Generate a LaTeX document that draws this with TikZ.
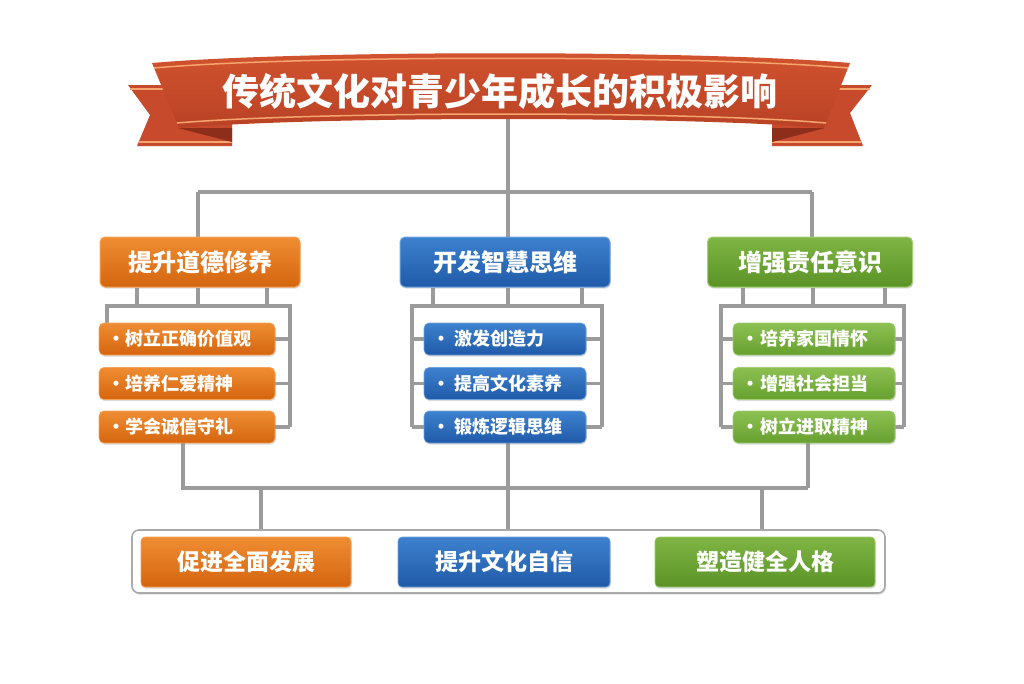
\documentclass[tikz,border=0pt]{standalone}
\usepackage{fontspec}
\newfontfamily\cjk{Noto Sans CJK SC}
\usetikzlibrary{shadows}
\pgfdeclarelayer{bg}
\pgfdeclarelayer{paper}
\pgfsetlayers{paper,bg,main}
\definecolor{lg}{HTML}{9B9B9B}
\definecolor{bn}{HTML}{C84A2D}
\definecolor{bnt}{HTML}{D2532F}
\definecolor{bnb}{HTML}{B94225}
\definecolor{bnd}{HTML}{8C2E1A}
\definecolor{bns}{HTML}{F5A56E}
\definecolor{ot}{HTML}{EF8D33}
\definecolor{ob}{HTML}{D4650F}
\definecolor{oe}{HTML}{F4A357}
\definecolor{btc}{HTML}{3E81CF}
\definecolor{bbc}{HTML}{1F5AA7}
\definecolor{be}{HTML}{6FA3DE}
\definecolor{gt}{HTML}{7EB544}
\definecolor{gb}{HTML}{5B9327}
\definecolor{ge}{HTML}{A2CF72}
\definecolor{git}{HTML}{8CC152}
\definecolor{gib}{HTML}{67A030}
\newcommand\bul[1]{\makebox[8pt][c]{·}\hspace{#1}}
\begin{document}
\begin{tikzpicture}[x=1pt,y=-1pt,
  conn/.style={draw=lg,line width=3.2pt},
  shad/.style={drop shadow={opacity=0.28,shadow xshift=0.8pt,shadow yshift=-1.6pt}},
  obox/.style={top color=ot,bottom color=ob,draw=oe},
  bbox/.style={top color=btc,bottom color=bbc,draw=be},
  gbox/.style={top color=gt,bottom color=gb,draw=ge},
  gitem/.style={top color=git,bottom color=gib,draw=ge},
  hdr/.style={shad,rounded corners=5pt,line width=1pt,minimum height=50pt,text=white,
    font=\cjk\bfseries\fontsize{24}{24}\selectfont},
  itembox/.style={shad,rounded corners=5pt,line width=0.6pt,minimum height=32pt,text=white,
    inner xsep=13pt,align=left,font=\cjk\bfseries\fontsize{18}{18}\selectfont},
  botbox/.style={shad,rounded corners=4pt,line width=0.6pt,minimum height=50pt,text=white,
    font=\cjk\bfseries\fontsize{23}{23}\selectfont},
  titletext/.style={text=white,font=\cjk\bfseries\fontsize{37}{37}\selectfont}
]
\useasboundingbox (0,0) rectangle (1024,683);
\begin{pgfonlayer}{paper}
\fill[white] (0,0) rectangle (1024,683);
\end{pgfonlayer}

% ---------- banner ----------
% left tail
\fill[bn] (128,85) -- (232,85) -- (232,146) -- (137,146) -- (150,115) -- cycle;
\draw[bns,line width=1.4pt] (130,89) -- (232,89);
\draw[bns,line width=1.4pt] (139,142) -- (232,142);
\fill[bnd] (178,128) -- (232,128) -- (232,142) -- cycle;
% right tail
\fill[bn] (872,85) -- (772,85) -- (772,146) -- (863,146) -- (850,113) -- cycle;
\draw[bns,line width=1.4pt] (870,89) -- (772,89);
\draw[bns,line width=1.4pt] (861,142) -- (772,142);
\fill[bnd] (825,128) -- (772,128) -- (772,142) -- cycle;
% main band
\shade[top color=bnt,bottom color=bnb] (152,63) .. controls (300,50) and (700,50) .. (850,63)
  -- (824,128) .. controls (690,116) and (320,116) .. (179,128) -- cycle;
\draw[bns,line width=1.5pt] (154,68) .. controls (300,55) and (700,55) .. (848,68);
\draw[bns,line width=1.5pt] (177,123) .. controls (320,111) and (690,111) .. (826,123);
\node[titletext] (title) at (500,91) {传统文化对青少年成长的积极影响};
\coordinate (bt) at (508,118);

% ---------- headers ----------
\node[hdr,obox,minimum width=200pt] (hO) at (200,262) {提升道德修养};
\node[hdr,bbox,minimum width=210pt] (hB) at (505,262) {开发智慧思维};
\node[hdr,gbox,minimum width=205pt] (hG) at (810,262) {增强责任意识};

% ---------- items ----------
\node[itembox,obox,minimum width=176pt,text width=150pt] (o1) at (187,339) {\bul{6pt}树立正确价值观};
\node[itembox,obox,minimum width=176pt,text width=150pt] (o2) at (187,383.5) {\bul{6pt}培养仁爱精神};
\node[itembox,obox,minimum width=176pt,text width=150pt] (o3) at (187,427) {\bul{6pt}学会诚信守礼};

\node[itembox,bbox,minimum width=162pt,text width=136pt] (b1) at (505,339) {\bul{10pt}激发创造力};
\node[itembox,bbox,minimum width=162pt,text width=136pt] (b2) at (505,383.5) {\bul{10pt}提高文化素养};
\node[itembox,bbox,minimum width=162pt,text width=136pt] (b3) at (505,427) {\bul{10pt}锻炼逻辑思维};

\node[itembox,gitem,minimum width=162pt,text width=136pt] (g1) at (814,339) {\bul{6pt}培养家国情怀};
\node[itembox,gitem,minimum width=162pt,text width=136pt] (g2) at (814,383.5) {\bul{6pt}增强社会担当};
\node[itembox,gitem,minimum width=162pt,text width=136pt] (g3) at (814,427) {\bul{6pt}树立进取精神};

% ---------- bottom ----------
\node[shad,draw=lg!85,fill=white,rounded corners=7pt,line width=1.6pt,
  minimum width=753pt,minimum height=63pt] (cont) at (508.5,561.5) {};
\node[botbox,obox,minimum width=210pt] (r1) at (246,562) {促进全面发展};
\node[botbox,bbox,minimum width=212pt] (r2) at (504,562) {提升文化自信};
\node[botbox,gbox,minimum width=220pt] (r3) at (765,562) {塑造健全人格};

% ---------- connectors ----------
\coordinate (jT) at (508,192);
\coordinate (jO) at (198,192);
\coordinate (jG) at (812,192);
\coordinate (fO1) at (137,306); \coordinate (fO2) at (198,306); \coordinate (fO3) at (267,306);
\coordinate (fB1) at (433,306); \coordinate (fB2) at (508,306); \coordinate (fB3) at (582,306);
\coordinate (fG1) at (743,306); \coordinate (fG2) at (813,306); \coordinate (fG3) at (885,306);
\coordinate (oL) at (107,306); \coordinate (oR) at (290,306);
\coordinate (bL) at (412,306); \coordinate (bR) at (602,306);
\coordinate (gL) at (721,306); \coordinate (gR) at (904,306);
\coordinate (kO) at (183,488); \coordinate (kB) at (508,488); \coordinate (kG) at (808,488);
\coordinate (m1) at (261,488); \coordinate (m3) at (762,488);

\begin{pgfonlayer}{bg}
\draw[conn] (bt) -- (jT);
\draw[conn] (jO) -- (jG);
\draw[conn] (jO) -- (jO |- hO.north);
\draw[conn] (jT) -- (jT |- hB.north);
\draw[conn] (jG) -- (jG |- hG.north);
% header to frame
\foreach \c/\h in {fO1/hO,fO2/hO,fO3/hO,fB1/hB,fB2/hB,fB3/hB,fG1/hG,fG2/hG,fG3/hG}
  \draw[conn] (\c |- \h.south) -- (\c);
% orange frame
\draw[conn] (oL |- o1.north) -- (oL) -- (oR) -- (oR |- o3.east);
\foreach \i in {o1,o2,o3} \draw[conn] (\i.east) -- (\i.east -| oR);
% blue frame
\draw[conn] (bL |- b3.west) -- (bL) -- (bR) -- (bR |- b3.east);
\foreach \i in {b1,b2,b3} {\draw[conn] (\i.east) -- (\i.east -| bR); \draw[conn] (\i.west) -- (\i.west -| bL);}
% green frame
\draw[conn] (gL |- g3.west) -- (gL) -- (gR) -- (gR |- g3.east);
\foreach \i in {g1,g2,g3} {\draw[conn] (\i.east) -- (\i.east -| gR); \draw[conn] (\i.west) -- (\i.west -| gL);}
% lower tree
\draw[conn] (kO |- o3.south) -- (kO) -- (kG);
\draw[conn] (kB |- b3.south) -- (kB);
\draw[conn] (kG |- g3.south) -- (kG);
\draw[conn] (m1) -- (m1 |- cont.north);
\draw[conn] (kB) -- (kB |- cont.north);
\draw[conn] (m3) -- (m3 |- cont.north);
\end{pgfonlayer}
\end{tikzpicture}
\end{document}
